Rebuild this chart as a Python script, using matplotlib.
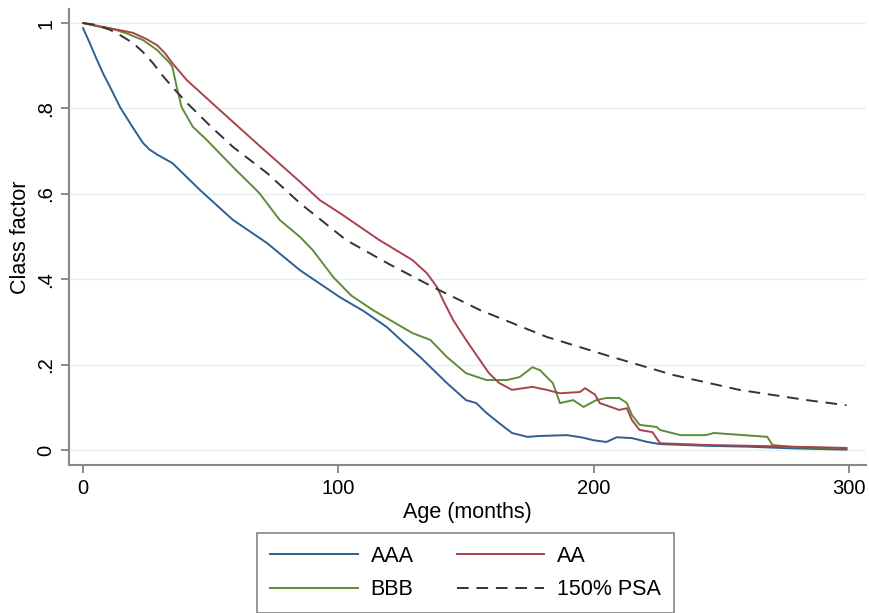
import matplotlib.pyplot as plt

plt.rcParams['font.family'] = ['Liberation Sans', 'DejaVu Sans']

# values (age in months, class factor)
aaa_age = [0, 2.5, 5, 8, 10.6, 14.5, 19, 23.5, 26, 29, 35, 45.8, 58.7, 72, 85,
           100.6, 110, 119, 125, 132, 142.5, 150, 154, 158, 163, 168, 174, 179,
           189.5, 195, 200, 205, 209, 215, 221, 226, 244, 260, 278, 299]
aaa_val = [0.988, 0.955, 0.92, 0.88, 0.850, 0.803, 0.76, 0.719, 0.704, 0.692,
           0.672, 0.609, 0.539, 0.485, 0.421, 0.358, 0.325, 0.288, 0.255, 0.218,
           0.157, 0.117, 0.110, 0.087, 0.063, 0.040, 0.031, 0.033, 0.035, 0.030,
           0.023, 0.019, 0.030, 0.028, 0.019, 0.014, 0.010, 0.008, 0.004, 0.001]

aa_age = [0, 6.7, 13, 19.6, 25, 29, 32, 35, 40.7, 53.6, 66.6, 85, 92.8, 100.6,
          116, 129, 134.7, 138.6, 141, 145, 150, 155.4, 159, 163, 168, 176,
          181.6, 186.8, 194.6, 196.6, 200.5, 202.4, 210, 213, 215, 218, 223,
          226, 244, 270, 299]
aa_val = [1.0, 0.991, 0.985, 0.977, 0.962, 0.948, 0.93, 0.906, 0.866, 0.796,
          0.726, 0.628, 0.585, 0.555, 0.492, 0.445, 0.414, 0.382, 0.351, 0.304,
          0.258, 0.211, 0.180, 0.157, 0.141, 0.148, 0.141, 0.133, 0.136, 0.145,
          0.130, 0.110, 0.094, 0.098, 0.070, 0.047, 0.042, 0.016, 0.012, 0.009,
          0.005]

bbb_age = [0, 10.6, 17, 23.5, 29, 34, 35, 36.7, 38.6, 43, 48.5, 58.7, 69, 77,
           85, 90, 98, 105, 113.5, 129, 136, 142.5, 150, 158, 166, 171, 176,
           179, 181.6, 184, 186.8, 192, 196, 201, 205, 210, 213, 215, 218,
           224.7, 226, 234, 244, 247, 268, 270, 278, 299]
bbb_val = [1.0, 0.988, 0.976, 0.960, 0.937, 0.906, 0.897, 0.850, 0.803, 0.757,
           0.726, 0.663, 0.602, 0.539, 0.499, 0.468, 0.405, 0.362, 0.328, 0.274,
           0.258, 0.218, 0.180, 0.164, 0.164, 0.171, 0.194, 0.187, 0.171, 0.157,
           0.110, 0.117, 0.101, 0.117, 0.122, 0.122, 0.110, 0.082, 0.059, 0.054,
           0.047, 0.035, 0.035, 0.040, 0.031, 0.012, 0.007, 0.004]

psa_age = [0, 5, 10.6, 15, 19.6, 23.5, 27.4, 31, 35, 40.7, 50, 58.7, 72, 85,
           103, 120, 137, 155.4, 181.6, 205, 231, 257, 283.5, 299]
psa_val = [1.0, 0.996, 0.984, 0.97, 0.953, 0.932, 0.906, 0.878, 0.85, 0.813,
           0.758, 0.710, 0.649, 0.578, 0.492, 0.435, 0.382, 0.328, 0.265,
           0.222, 0.176, 0.141, 0.117, 0.105]

fig = plt.figure(figsize=(8.69, 6.13), dpi=100)
ax = fig.add_axes([0.0794, 0.2414, 0.917, 0.744])

l1, = ax.plot(aaa_age, aaa_val, color='#2f5f8f', lw=1.4, label='AAA')
l3, = ax.plot(bbb_age, bbb_val, color='#5f8c38', lw=1.4, label='BBB')
l2, = ax.plot(aa_age, aa_val, color='#a8434b', lw=1.4, label='AA')
l4, = ax.plot(psa_age, psa_val, color='#333333', lw=1.4, ls=(0, (6, 4)),
              label='150% PSA')

ax.set_xlim(-5.5, 306.6)
ax.set_ylim(-0.035, 1.033)
ax.set_xticks([0, 100, 200, 300])
ax.set_yticks([0, 0.2, 0.4, 0.6, 0.8, 1.0])
ax.set_yticklabels(['0', '.2', '.4', '.6', '.8', '1'], rotation=90, va='center')
ax.tick_params(labelsize=14.5, color='#777777', length=6, width=1.2, pad=4)
ax.grid(axis='y', color='#e6eff1', lw=1)
ax.set_axisbelow(True)
for s in ['top', 'right']:
    ax.spines[s].set_visible(False)
for s in ['left', 'bottom']:
    ax.spines[s].set_color('#888888')
    ax.spines[s].set_linewidth(1.5)

ax.set_xlabel('Age (months)', fontsize=15.5, labelpad=3)
ax.set_ylabel('Class factor', fontsize=15.5, labelpad=4)

leg = fig.legend(handles=[l1, l3, l2, l4], loc='upper center',
                 bbox_to_anchor=(0.5357, 0.1305), ncol=2, fontsize=15.5,
                 handlelength=4.05, handletextpad=0.6, columnspacing=2.0,
                 fancybox=False, edgecolor='#666666', borderpad=0.6,
                 labelspacing=0.58, borderaxespad=0)
leg.get_frame().set_linewidth(1.2)

fig.savefig('out.png', dpi=100)
